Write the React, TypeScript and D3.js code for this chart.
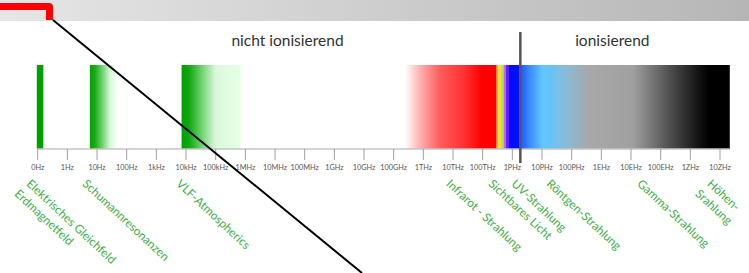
import React from 'react';
import * as d3 from 'd3';

// tick labels, one per decade; 0Hz sits one decade left of 1Hz
const tickLabels = [
  '0Hz', '1Hz', '10Hz', '100Hz', '1kHz', '10kHz', '100kHz', '1MHz', '10MHz', '100MHz',
  '1GHz', '10GHz', '100GHz', '1THz', '10THz', '100THz', '1PHz', '10PHz', '100PHz',
  '1EHz', '10EHz', '100EHz', '1ZHz', '10ZHz',
];
const tickDecades = tickLabels.map((_, i) => i - 1);

// bands in log10(Hz), each with colour stops
const bandNames = ['static', 'schumann', 'vlf', 'infrared', 'visible', 'ionizing'];
const bandFrom = [-1.03, 0.76, 3.85, 11.38, 14.47, 15.24];
const bandTo = [-0.81, 1.6, 5.84, 14.47, 15.24, 22.33];
const bandStops: [number, string][][] = [
  [[-1.03, '#00a000'], [-0.81, '#00a000']],
  [[0.76, '#00a000'], [0.93, '#18aa18'], [1.2, '#78d478'], [1.44, '#dcf8dc'], [1.6, '#e6ffe6']],
  [[3.85, '#00a000'], [4.1, '#10a810'], [4.6, '#80d880'], [5.0, '#dcf8dc'], [5.84, '#e6ffe6']],
  [[11.38, '#ffffff'], [11.89, '#ffb0b0'], [12.56, '#ff5c5c'], [13.4, '#ff3030'], [13.97, '#ff0000'], [14.47, '#ff0000']],
  [
    [14.47, '#ffa83c'], [14.524, '#ffa83c'], [14.524, '#f4e23a'], [14.605, '#f4e23a'],
    [14.605, '#bce04a'], [14.672, '#bce04a'], [14.672, '#c8a8e0'], [14.716, '#c8a8e0'],
    [14.716, '#c060ff'], [14.783, '#c060ff'], [14.783, '#5a20ff'], [14.885, '#5a20ff'],
    [14.885, '#0010ff'], [15.24, '#0010ff'],
  ],
  [
    [15.24, '#1c50ff'], [15.59, '#3c8cff'], [16.03, '#60c8ff'], [16.27, '#64c4f8'],
    [16.77, '#88bcd8'], [17.61, '#a8a8a8'], [19.06, '#a0a0a0'], [20.14, '#5a5a5a'],
    [21.32, '#101010'], [21.65, '#000000'], [22.33, '#000000'],
  ],
];

const dividerDecade = 15.27;

const regionTitles = ['nicht ionisierend', 'ionisierend'];
const regionCenters = [7.42, 18.37];

const labelLines = [
  ['Elektrisches Gleichfeld', 'Erdmagnetfeld'],
  ['Schumannresonanzen'],
  ['VLF-Atmospherics'],
  ['Infrarot - Strahlung'],
  ['Sichtbares Licht'],
  ['UV-Strahlung'],
  ['Röntgen-Strahlung'],
  ['Gamma-Strahlung'],
  ['Höhen-', 'Srahlung'],
];
const labelDecades = [-1.19, 0.7, 3.86, 12.96, 14.38, 15.16, 16.34, 19.4, 21.76];
const labelShift = [[0, 0], [-12, 10]];

export default function App() {
  const width = 749;
  const height = 273;
  const x = d3.scaleLinear().domain([-1, 22]).range([37.7, 720]);
  const barTop = 65;
  const barBottom = 149;
  const angle = 43;
  const green = '#3fae49';

  return (
    <svg
      width={width}
      height={height}
      style={{ position: 'absolute', left: 0, top: 0, background: '#fff' }}
    >
      <defs>
        <linearGradient id="head" x1="0" x2="1" y1="0" y2="0">
          <stop offset="0" stopColor="#e6e6e6" />
          <stop offset="1" stopColor="#b6b6b6" />
        </linearGradient>
        {bandNames.map((name, i) => (
          <linearGradient key={name} id={'g-' + name} x1="0" x2="1" y1="0" y2="0">
            {bandStops[i].map(([p, c], j) => (
              <stop
                key={j}
                offset={(p - bandFrom[i]) / (bandTo[i] - bandFrom[i])}
                stopColor={c}
              />
            ))}
          </linearGradient>
        ))}
      </defs>

      {/* header strip */}
      <rect x={0} y={0} width={width} height={21} fill="url(#head)" />
      <path d="M0,3 H49 Q53,3 53,7 V20 H46 V10 H0 Z" fill="#ff0000" />

      {/* spectrum bands */}
      {bandNames.map((name, i) => (
        <rect
          key={name}
          x={x(bandFrom[i])}
          y={barTop}
          width={x(bandTo[i]) - x(bandFrom[i])}
          height={barBottom - barTop}
          fill={`url(#g-${name})`}
        />
      ))}

      {/* axis */}
      <line
        x1={x(-1.03)}
        x2={x(22.33)}
        y1={barBottom}
        y2={barBottom}
        stroke="#c4c4c4"
        strokeWidth={1.5}
      />
      {tickDecades.map((d, i) => (
        <g key={i} transform={`translate(${x(d)},0)`}>
          <line y1={barBottom} y2={160} stroke="#a0a0a0" strokeWidth={1} />
          <text
            y={170}
            textAnchor="middle"
            fontFamily="Lato, sans-serif"
            fontSize={7.3}
            fill="#555"
          >
            {tickLabels[i]}
          </text>
        </g>
      ))}

      {/* divider */}
      <line
        x1={x(dividerDecade)}
        x2={x(dividerDecade)}
        y1={32}
        y2={163}
        stroke="#555"
        strokeWidth={2.5}
      />

      {regionTitles.map((t, i) => (
        <text
          key={t}
          x={x(regionCenters[i])}
          y={46}
          textAnchor="middle"
          fontFamily="Lato, sans-serif"
          fontSize={15.5}
          fill="#333"
        >
          {t}
        </text>
      ))}

      {/* rotated band labels */}
      {labelLines.map((lines, i) =>
        lines.map((line, j) => (
          <text
            key={i + '-' + j}
            transform={`translate(${x(labelDecades[i]) + labelShift[j][0]},${178 + labelShift[j][1]}) rotate(${angle})`}
            dy="0.78em"
            fontFamily="Lato, sans-serif"
            fontSize={11.8}
            fill={green}
          >
            {line}
          </text>
        ))
      )}

      {/* diagonal annotation line */}
      <line x1={53} y1={20} x2={362} y2={273} stroke="#000" strokeWidth={2} />
    </svg>
  );
}
